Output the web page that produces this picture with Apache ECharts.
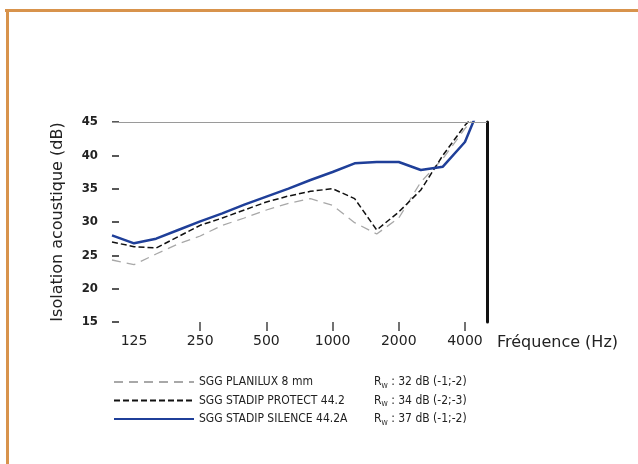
<!DOCTYPE html>
<html><head><meta charset="utf-8">
<script src="https://cdn.jsdelivr.net/npm/echarts@6/dist/echarts.min.js"></script>
<style>html,body{margin:0;padding:0;background:#fff}#c{width:638px;height:464px}</style>
</head><body><div id="c"></div>
<script>
var freqs = ['100','125','160','200','250','315','400','500','630','800','1000','1250','1600','2000','2500','3150','4000','5000'];
var tickLabels = ['125','250','500','1000','2000','4000'];
var planilux = [24.3,23.6,25.2,26.7,27.9,29.5,30.6,31.8,32.8,33.5,32.5,29.9,28.2,30.6,36.0,39.5,44.0,48.0];
var protect = [27.0,26.3,26.1,27.8,29.5,30.6,31.8,33.0,33.9,34.6,35.0,33.5,28.8,31.5,34.8,40.0,44.5,48.0];
var silence = [28.0,26.8,27.5,28.8,30.1,31.3,32.6,33.8,35.0,36.3,37.5,38.8,39.0,39.0,37.8,38.3,42.0,50.0];
var names = ['SGG PLANILUX 8 mm','SGG STADIP PROTECT 44.2','SGG STADIP SILENCE 44.2A'];
var rwText = [' : 32 dB (-1;-2)',' : 34 dB (-2;-3)',' : 37 dB (-1;-2)'];

var chart = echarts.init(document.getElementById('c'));
var font = 'DejaVu Sans Condensed, DejaVu Sans, sans-serif';
var font2 = 'DejaVu Sans, sans-serif';
chart.setOption({
  animation: false,
  backgroundColor: '#ffffff',
  grid: {left: 112, right: 151, top: 122, bottom: 142},
  graphic: [
    {type: 'rect', shape: {x: 5, y: 9, width: 633, height: 3}, style: {fill: '#d8934c'}},
    {type: 'rect', shape: {x: 6, y: 9, width: 3, height: 455}, style: {fill: '#d8934c'}},
    {type: 'text', left: 497, top: 335, style: {text: 'Fréquence (Hz)', font: '16px ' + font2, fill: '#222'}}
  ],
  legend: {
    orient: 'vertical', left: 108, top: 371, itemWidth: 80, itemHeight: 12, itemGap: 5,
    data: names,
    itemStyle: {opacity: 0},
    formatter: function (n) {
      var i = names.indexOf(n);
      return '{n|' + n + '}{r|R}{w|W}{t|' + rwText[i] + '}';
    },
    textStyle: {
      fontFamily: font, fontSize: 12, color: '#222',
      rich: {
        n: {width: 175, fontFamily: font, fontSize: 12, color: '#222'},
        r: {fontFamily: font, fontSize: 12, color: '#222'},
        w: {fontFamily: font, fontSize: 7, color: '#222', padding: [8, 0, 0, 0]},
        t: {fontFamily: font, fontSize: 12, color: '#222'}
      }
    }
  },
  xAxis: {
    type: 'category', data: freqs, boundaryGap: false,
    axisLine: {show: false},
    axisTick: {show: true, length: 9, lineStyle: {color: '#444', width: 1.5},
      interval: function (i, v) { return v !== '125' && tickLabels.indexOf(v) >= 0; }},
    axisLabel: {interval: function (i, v) { return tickLabels.indexOf(v) >= 0; },
      margin: 12, fontFamily: font2, fontSize: 14, color: '#222'}
  },
  yAxis: [{
    type: 'value', min: 15, max: 45, interval: 5,
    axisLine: {show: false},
    axisTick: {show: true, inside: true, length: 7, lineStyle: {color: '#222', width: 1.5}},
    splitLine: {show: false},
    axisLabel: {margin: 14, fontFamily: font, fontSize: 13, fontWeight: 'bold', color: '#222'},
    name: 'Isolation acoustique (dB)', nameLocation: 'middle', nameGap: 46, nameRotate: 90,
    nameTextStyle: {fontFamily: font2, fontSize: 16, color: '#222'}
  }, {
    type: 'value', min: 15, max: 45, position: 'right',
    axisLine: {show: true, lineStyle: {color: '#111', width: 3}},
    axisTick: {show: false}, axisLabel: {show: false}, splitLine: {show: false}
  }],
  series: [{
    name: names[0], type: 'line', data: planilux, symbol: 'none', clip: true,
    lineStyle: {color: '#a8a8a8', width: 1.3, type: [9, 6]}, itemStyle: {color: '#a8a8a8'},
    markLine: {silent: true, symbol: 'none', label: {show: false},
      lineStyle: {color: '#9a9a9a', width: 1.2, type: 'solid'}, data: [{yAxis: 45}]}
  }, {
    name: names[1], type: 'line', data: protect, symbol: 'none', clip: true,
    lineStyle: {color: '#111', width: 1.5, type: [6, 3]}, itemStyle: {color: '#111'}
  }, {
    name: names[2], type: 'line', data: silence, symbol: 'none', clip: true,
    lineStyle: {color: '#1f3f99', width: 2.5}, itemStyle: {color: '#1f3f99'}
  }]
});
</script></body></html>
